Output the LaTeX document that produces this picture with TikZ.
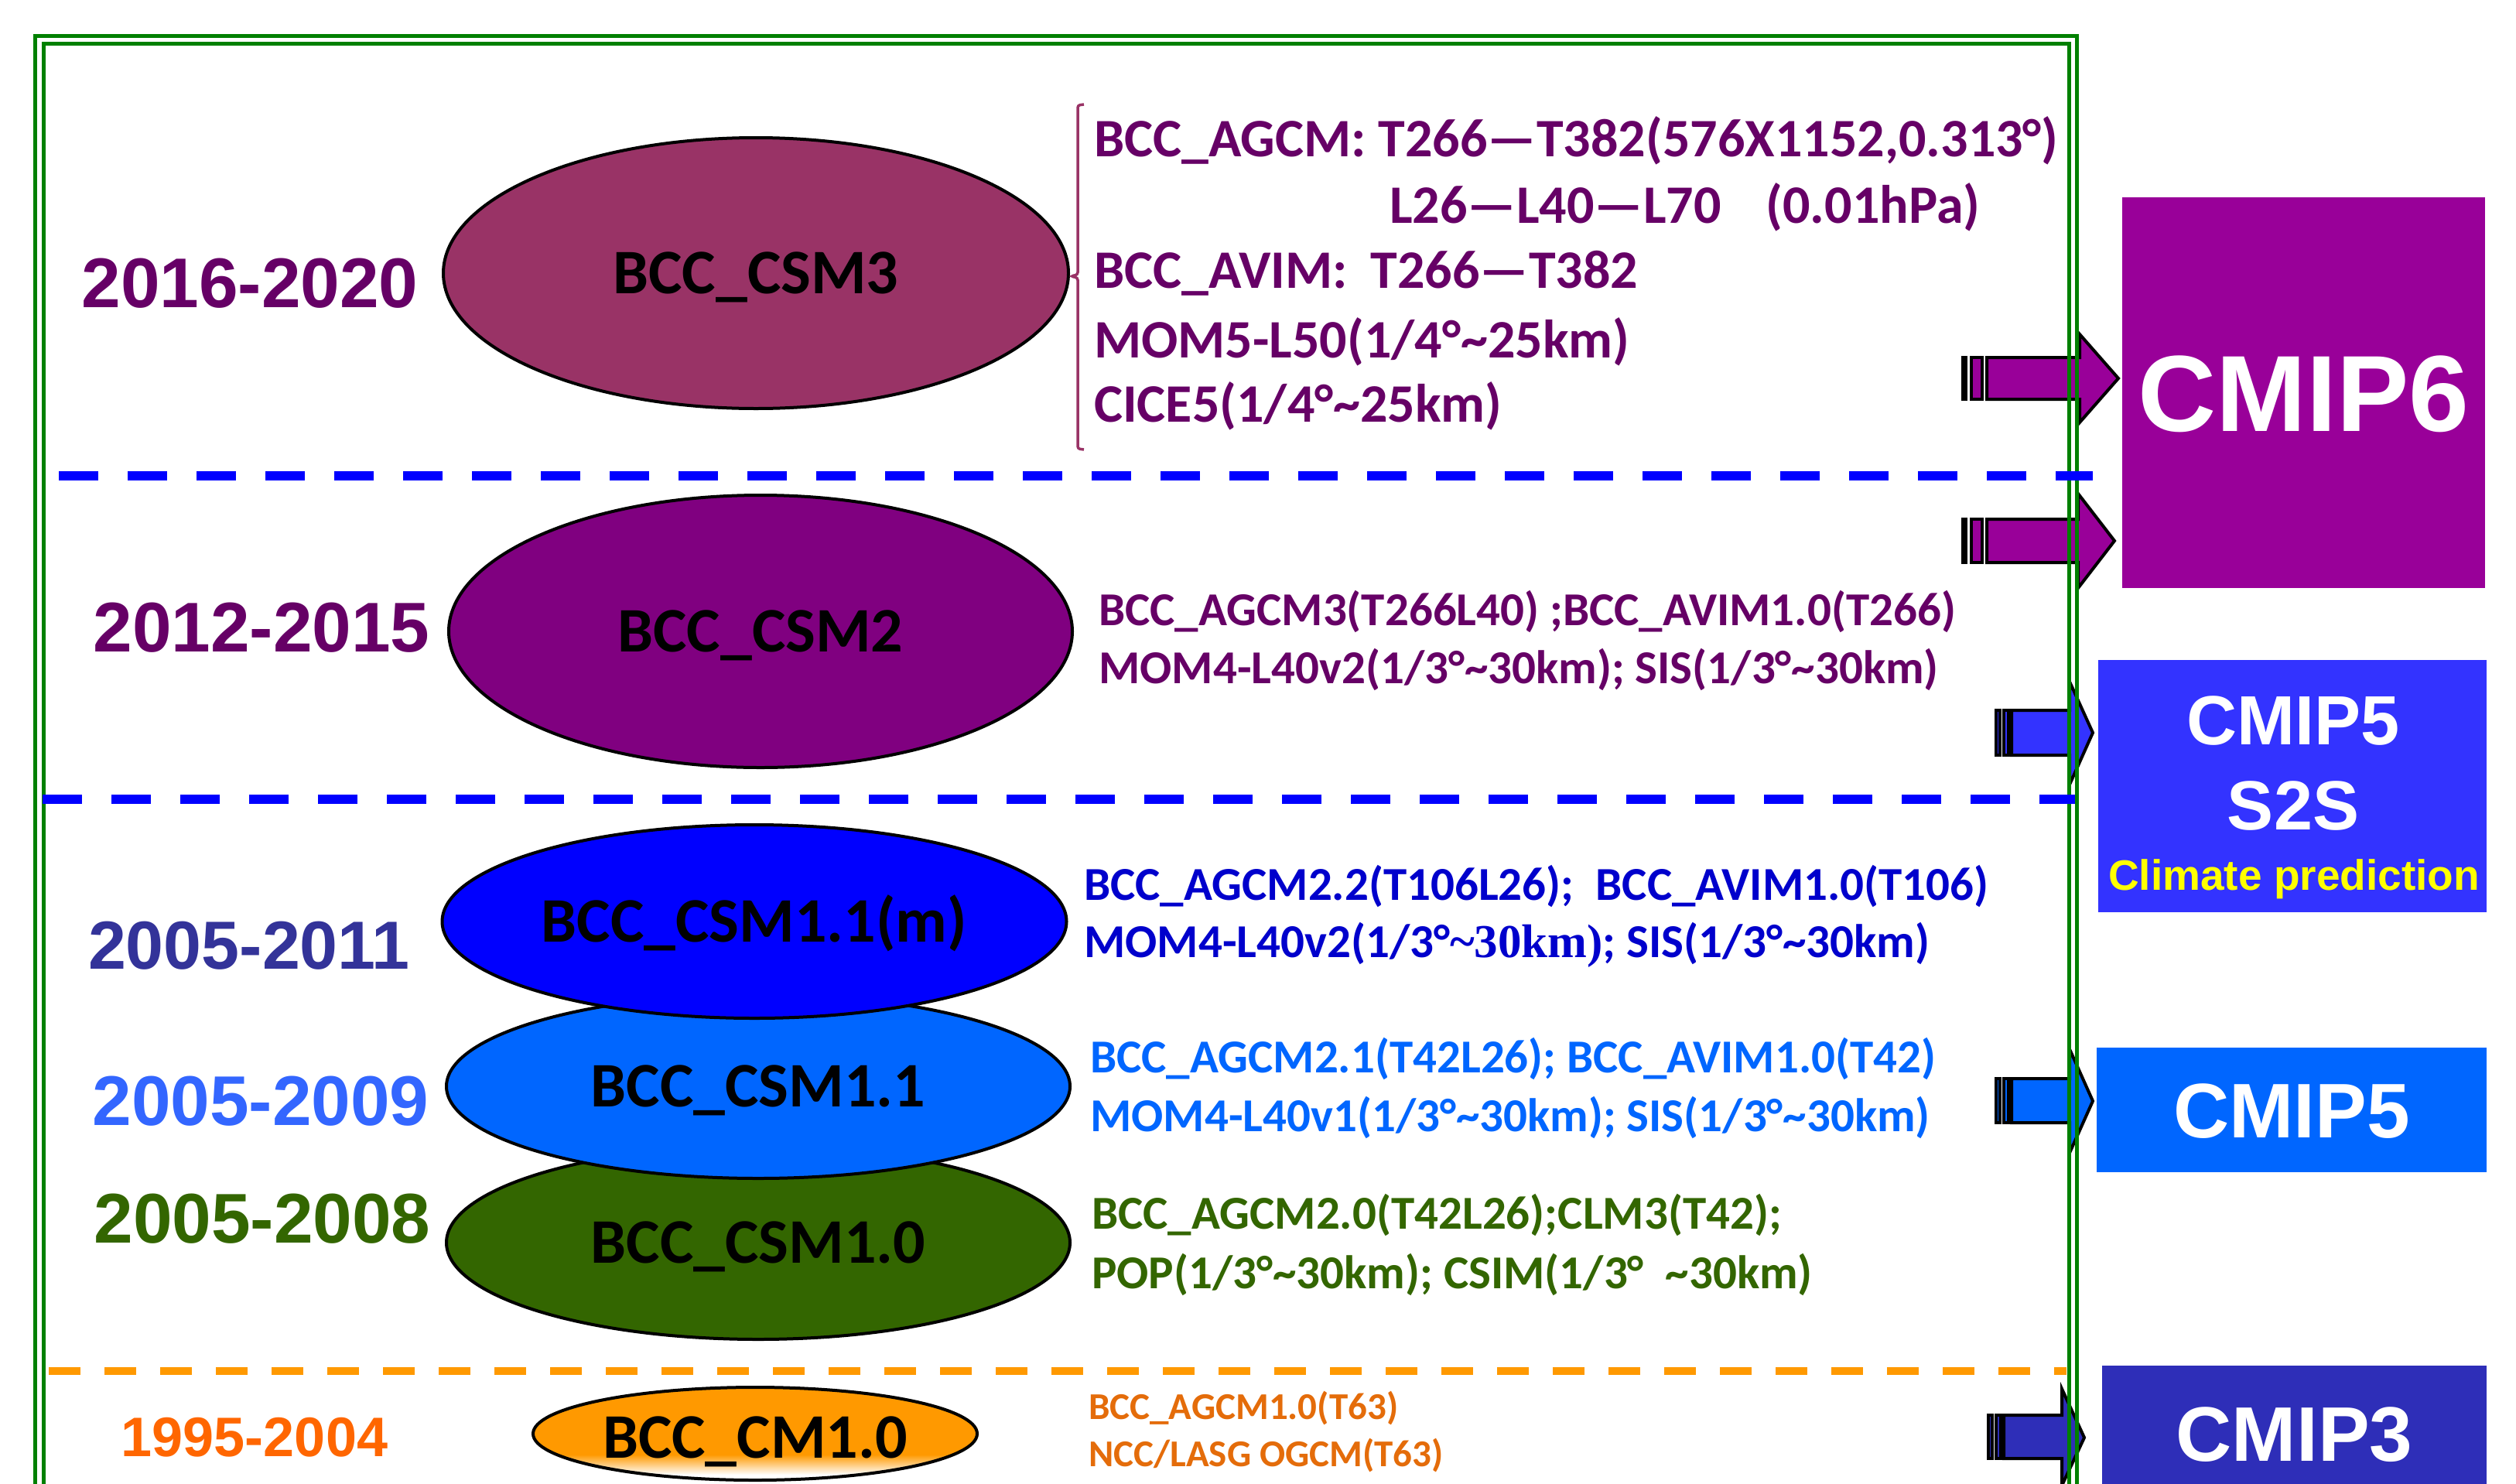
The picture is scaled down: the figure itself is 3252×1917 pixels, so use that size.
\documentclass[tikz,border=0pt]{standalone}
\usepackage{fontspec}
\setmainfont{Carlito}
\newfontfamily\arialf{Liberation Sans}
\newfontfamily\tnrf{Liberation Serif}
\usetikzlibrary{shapes.geometric}

\definecolor{tpurple}{HTML}{660066}
\definecolor{ccsm3}{HTML}{993366}
\definecolor{ccsm2}{HTML}{800080}
\definecolor{cmblue}{HTML}{0000FF}
\definecolor{clblue}{HTML}{0066FF}
\definecolor{cgreen}{HTML}{336600}
\definecolor{corange}{HTML}{FF9900}
\definecolor{y2011}{HTML}{333399}
\definecolor{y2009}{HTML}{3366FF}
\definecolor{y2004}{HTML}{FF6600}
\definecolor{t2011}{HTML}{0000CC}
\definecolor{t2004}{HTML}{E46C0A}
\definecolor{cmipsix}{HTML}{990099}
\definecolor{cmipfive}{HTML}{3333FF}
\definecolor{cmipthree}{HTML}{2E2EB8}
\definecolor{framegreen}{HTML}{008000}
\definecolor{cyellow}{HTML}{FFFF00}

\newcommand\fsz[1]{\fontsize{#1}{#1}\selectfont}
\newcommand\tld{\textasciitilde}

\begin{document}
\begin{tikzpicture}[x=1pt,y=-1pt,
  yearlbl/.style={anchor=base, inner sep=0pt},
  desc/.style={anchor=base west, inner sep=0pt},
  ell/.style={ellipse, draw=black, line width=4pt, inner sep=0pt,
              text height=52pt, text depth=0pt, font=\bfseries\fsz{82}},
  cmipbox/.style={rectangle, inner sep=0pt, draw=none, text=white},
  cmiptxt/.style={anchor=base, inner sep=0pt, text=white},
  ablk/.style={draw=black, line width=4pt, line join=miter},
  gframe/.style={draw=framegreen, line width=5pt},
  bdash/.style={draw=cmblue, line width=12pt, dash pattern=on 51pt off 38pt},
  odash/.style={draw=corange, line width=10pt, dash pattern=on 41pt off 31pt},
  brace/.style={draw=ccsm3, line width=3.5pt, rounded corners=3pt}
]
\useasboundingbox (0,0) rectangle (3252,1917);
\fill[white] (0,0) rectangle (3252,1917);

% ---------- block arrows (under the frame) ----------
% arrow 1 (purple)
\filldraw[ablk, fill=cmipsix] (2537,462) rectangle (2541,516);
\filldraw[ablk, fill=cmipsix] (2548,462) rectangle (2562,516);
\filldraw[ablk, fill=cmipsix] (2568,462) -- (2688,462) -- (2688,432) -- (2738,489)
   -- (2688,546) -- (2688,516) -- (2568,516) -- cycle;
% arrow 2 (purple)
\filldraw[ablk, fill=cmipsix] (2537,671) rectangle (2541,727);
\filldraw[ablk, fill=cmipsix] (2548,671) rectangle (2562,727);
\filldraw[ablk, fill=cmipsix] (2568,671) -- (2686,671) -- (2686,638) -- (2733,699)
   -- (2686,760) -- (2686,727) -- (2568,727) -- cycle;
% arrow 3 (blue)
\filldraw[ablk, fill=cmipfive] (2580,918) rectangle (2585,976);
\filldraw[ablk, fill=cmipfive] (2590,918) rectangle (2596,976);
\filldraw[ablk, fill=cmipfive] (2600,918) -- (2675,918) -- (2675,881) -- (2705,947)
   -- (2675,1014) -- (2675,976) -- (2600,976) -- cycle;
% arrow 4 (light blue)
\filldraw[ablk, fill=clblue] (2580,1394) rectangle (2585,1451);
\filldraw[ablk, fill=clblue] (2590,1394) rectangle (2596,1451);
\filldraw[ablk, fill=clblue] (2600,1394) -- (2675,1394) -- (2675,1356) -- (2705,1423)
   -- (2675,1490) -- (2675,1451) -- (2600,1451) -- cycle;
% arrow 5 (dark blue)
\filldraw[ablk, fill=cmipthree] (2570,1829) rectangle (2575,1885);
\filldraw[ablk, fill=cmipthree] (2580,1829) rectangle (2586,1885);
\filldraw[ablk, fill=cmipthree] (2590,1829) -- (2665,1829) -- (2665,1795) -- (2694,1858)
   -- (2665,1920) -- (2665,1885) -- (2590,1885) -- cycle;

% ---------- double green frame ----------
\draw[gframe] (45.5,1940) -- (45.5,46.5) -- (2684.5,46.5) -- (2684.5,1940);
\draw[gframe] (56,1940) -- (56,56.5) -- (2674.5,56.5) -- (2674.5,1940);

% ---------- dashed separators ----------
\coordinate (d1a) at (76,615);   \coordinate (d1b) at (2705,615);
\coordinate (d2a) at (55,1033);  \coordinate (d2b) at (2682,1033);
\coordinate (d3a) at (63,1772);  \coordinate (d3b) at (2671,1772);
\draw[bdash] (d1a) -- (d1b);
\draw[bdash] (d2a) -- (d2b);
\draw[odash] (d3a) -- (d3b);

% ---------- year labels ----------
\node[yearlbl, text=tpurple, font=\arialf\bfseries\fsz{91}] (y1) at (323,397) {2016-2020};
\node[yearlbl, text=tpurple, font=\arialf\bfseries\fsz{91}] (y2) at (338,842) {2012-2015};
\node[yearlbl, text=y2011, font=\arialf\bfseries\fsz{88}] (y3) at (322,1252) {2005-2011};
\node[yearlbl, text=y2009, font=\arialf\bfseries\fsz{91}] (y4) at (337,1454) {2005-2009};
\node[yearlbl, text=cgreen, font=\arialf\bfseries\fsz{91}] (y5) at (339,1606) {2005-2008};
\node[yearlbl, text=y2004, font=\arialf\bfseries\fsz{72}] (y6) at (329,1882) {1995-2004};

% ---------- model ellipses ----------
\node[ell, fill=ccsm3, minimum width=808pt, minimum height=350pt] (csm3) at (977,353) {BCC\_CSM3};
\node[ell, fill=ccsm2, minimum width=806pt, minimum height=352pt] (csm2) at (983,816) {BCC\_CSM2};
\node[ell, fill=cgreen, minimum width=806pt, minimum height=250pt] (csm10) at (980,1606) {BCC\_CSM1.0};
\node[ell, fill=clblue, minimum width=806pt, minimum height=238pt] (csm11) at (980,1404) {BCC\_CSM1.1};
\node[ell, fill=cmblue, minimum width=807pt, minimum height=250pt] (csm11m) at (975,1191) {BCC\_CSM1.1(m)};
% orange ellipse with fade at the bottom
\fill[corange] (976,1853) ellipse [x radius=287, y radius=60];
\begin{scope}
  \clip (976,1853) ellipse [x radius=287, y radius=60];
  \shade[top color=corange, bottom color=white] (680,1880) rectangle (1270,1906);
  \fill[white] (680,1906) rectangle (1270,1930);
\end{scope}
\node[ell, minimum width=574pt, minimum height=120pt] (cm10) at (976,1853) {\raisebox{-5pt}{BCC\_CM1.0}};

% ---------- brace for BCC_CSM3 ----------
\draw[brace] (1401,135) -- (1393,136) -- (1393,355) -- (1384,357) -- (1393,359)
   -- (1393,580) -- (1401,581);

% ---------- component descriptions ----------
\begin{scope}[every node/.append style={desc, text=tpurple, font=\bfseries\fsz{70}}]
\node (s1a) at (1414,202) {BCC\_AGCM: T266—T382(576X1152,0.313°)};
\node (s1b) at (1796,288) {L26—L40—L70\hspace*{58pt}(0.01hPa)};
\node (s1c) at (1414,372) {BCC\_AVIM:\hspace*{30pt}T266—T382};
\node (s1d) at (1414,462) {MOM5-L50(1/4°\tld25km)};
\node (s1e) at (1414,545) {CICE5(1/4°\tld25km)};
\end{scope}

\begin{scope}[every node/.append style={desc, text=tpurple, font=\bfseries\fsz{61}}]
\node (s2a) at (1420,808) {BCC\_AGCM3(T266L40) ;BCC\_AVIM1.0(T266)};
\node (s2b) at (1420,883) {MOM4-L40v2(1/3°\tld30km); SIS(1/3°\tld30km)};
\end{scope}

\begin{scope}[every node/.append style={desc, text=t2011, font=\bfseries\fsz{61}}]
\node (s3a) at (1401,1163) {BCC\_AGCM2.2(T106L26);\hspace*{28pt}BCC\_AVIM1.0(T106)};
\node (s3b) at (1401,1237) {MOM4-L40v2(1/3°{\tnrf\bfseries\tld30km)}; SIS(1/3°\tld30km)};
\end{scope}

\begin{scope}[every node/.append style={desc, text=clblue, font=\bfseries\fsz{61}}]
\node (s4a) at (1409,1386) {BCC\_AGCM2.1(T42L26); BCC\_AVIM1.0(T42)};
\node (s4b) at (1409,1462) {MOM4-L40v1(1/3°\tld30km); SIS(1/3°\tld30km)};
\end{scope}

\begin{scope}[every node/.append style={desc, text=cgreen, font=\bfseries\fsz{61}}]
\node (s5a) at (1411,1588) {BCC\_AGCM2.0(T42L26);CLM3(T42);};
\node (s5b) at (1411,1665) {POP(1/3°\tld30km); CSIM(1/3°\hspace*{28pt}\tld30km)};
\end{scope}

\begin{scope}[every node/.append style={desc, text=t2004, font=\bfseries\fsz{49}}]
\node (s6a) at (1407,1834) {BCC\_AGCM1.0(T63)};
\node (s6b) at (1407,1895) {NCC/LASG OGCM(T63)};
\end{scope}

% ---------- CMIP boxes ----------
\node[cmipbox, fill=cmipsix, minimum width=469pt, minimum height=505pt,
      text height=100pt, text depth=0pt, font=\arialf\bfseries\fsz{140}] (cmip6) at (2977.5,507.5) {CMIP6};

\node[cmipbox, fill=cmipfive, minimum width=502pt, minimum height=326pt] (cmip5s) at (2963,1016) {};
\node[cmiptxt, font=\arialf\bfseries\fsz{90}] (c5a) at (2964,962) {CMIP5};
\node[cmiptxt, font=\arialf\bfseries\fsz{90}] (c5b) at (2964,1072) {S2S};
\node[anchor=base, inner sep=0pt, text=cyellow, font=\arialf\bfseries\fsz{55}] (c5c) at (2965,1150) {Climate prediction};

\node[cmipbox, fill=clblue, minimum width=504pt, minimum height=161pt,
      text height=72pt, text depth=0pt, font=\arialf\bfseries\fsz{100}] (cmip5) at (2962,1434) {CMIP5};

\node[cmipbox, fill=cmipthree, minimum width=497pt, minimum height=174pt,
      text height=72pt, text depth=0pt, font=\arialf\bfseries\fsz{100}] (cmip3) at (2965.5,1852) {CMIP3};
\end{tikzpicture}
\end{document}
